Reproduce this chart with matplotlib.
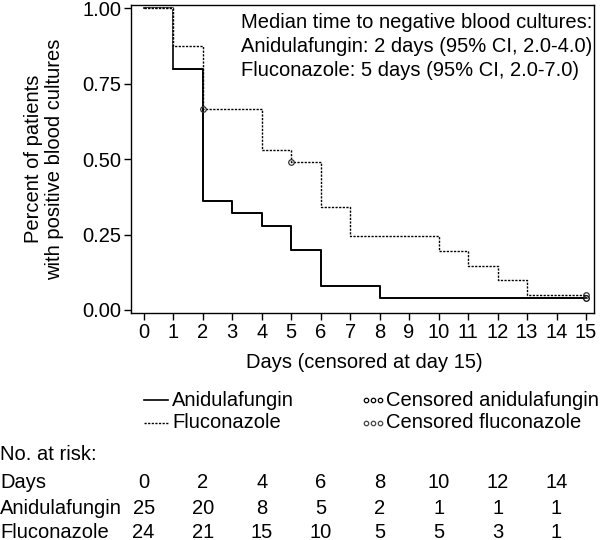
import matplotlib
matplotlib.use("Agg")
import matplotlib.pyplot as plt
import matplotlib.transforms as mtransforms
from matplotlib.lines import Line2D

plt.rcParams['font.family'] = ['Liberation Sans', 'DejaVu Sans']

# Data
ani_days = [0, 1, 2, 3, 4, 5, 6, 8, 15]
ani_surv = [1.0, 0.80, 0.36, 0.32, 0.28, 0.20, 0.08, 0.04, 0.04]
ani_cens_days = [15]
ani_cens_surv = [0.04]

flu_days = [0, 1, 2, 4, 5, 6, 7, 10, 11, 12, 13, 15]
flu_surv = [1.0, 0.875, 0.667, 0.531, 0.490, 0.343, 0.245, 0.196, 0.147, 0.098, 0.049, 0.049]
flu_cens_days = [2, 5, 15]
flu_cens_surv = [0.667, 0.490, 0.049]

risk_days = [0, 2, 4, 6, 8, 10, 12, 14]
risk_ani = [25, 20, 8, 5, 2, 1, 1, 1]
risk_flu = [24, 21, 15, 10, 5, 5, 3, 1]

xticks = list(range(0, 16))
yticks = [0.0, 0.25, 0.50, 0.75, 1.00]
ytick_labels = ['0.00', '0.25', '0.50', '0.75', '1.00']

W, H = 600, 540
fig = plt.figure(figsize=(6, 5.4), dpi=100)
ax = fig.add_axes([131 / W, 1 - 313 / H, (594 - 131) / W, (313 - 5) / H])

fs = 14.5
flu_ls = (0, (1.6, 1.0))
# Anidulafungin full curve underneath
ax.step(ani_days, ani_surv, where='post', color='black', lw=1.2, zorder=2)
# Fluconazole dashed with white gaps on top (hides the overlapping start)
ax.step(flu_days, flu_surv, where='post', color='black', lw=1.0, linestyle=flu_ls,
        gapcolor='white', zorder=3)
# Anidulafungin from its first event onward redrawn on top
ax.step(ani_days[1:], ani_surv[1:], where='post', color='black', lw=1.2, zorder=4)
ax.plot(ani_cens_days, ani_cens_surv, 'o', ms=4, mfc='none', mec='black', mew=0.9, zorder=5)
ax.plot(flu_cens_days, flu_cens_surv, 'o', ms=4, mfc='none', mec='#333333', mew=0.9, zorder=5)

ax.set_xlim(-0.43, 15.27)
ax.set_ylim(-0.01, 1.011)
ax.set_xticks(xticks)
ax.set_xticklabels([str(d) for d in xticks], fontsize=fs)
ax.set_yticks(yticks)
ax.set_yticklabels(ytick_labels, fontsize=fs)
ax.tick_params(direction='out', length=5, width=1, pad=2)
for s in ax.spines.values():
    s.set_linewidth(1)

ax.set_ylabel('Percent of patients\nwith positive blood cultures', fontsize=fs, linespacing=1.15)
ax.yaxis.set_label_coords(-0.145, 0.5)

def fx(px):
    return px / W

def fy(py):
    return 1 - py / H

fig.text(fx(241), fy(22), 'Median time to negative blood cultures:', fontsize=fs, va='center', ha='left')
fig.text(fx(241), fy(46), 'Anidulafungin: 2 days (95% CI, 2.0-4.0)', fontsize=fs, va='center', ha='left')
fig.text(fx(241), fy(70), 'Fluconazole: 5 days (95% CI, 2.0-7.0)', fontsize=fs, va='center', ha='left')

fig.text(fx(364), fy(363), 'Days (censored at day 15)', fontsize=fs, va='center', ha='center')

# Legend (manual)
fig.add_artist(Line2D([fx(144), fx(168)], [fy(400), fy(400)], color='black', lw=1.2))
fig.text(fx(172), fy(400), 'Anidulafungin', fontsize=fs, va='center', ha='left')
fig.add_artist(Line2D([fx(144), fx(168)], [fy(423), fy(423)], color='black', lw=1.0, linestyle=flu_ls))
fig.text(fx(172), fy(423), 'Fluconazole', fontsize=fs, va='center', ha='left')
fig.add_artist(Line2D([fx(366), fx(373), fx(380)], [fy(400)] * 3, lw=0, marker='o', ms=3.2,
                      mfc='none', mec='black', mew=0.9))
fig.text(fx(386), fy(400), 'Censored anidulafungin', fontsize=fs, va='center', ha='left')
fig.add_artist(Line2D([fx(366), fx(373), fx(380)], [fy(423)] * 3, lw=0, marker='o', ms=3.2,
                      mfc='none', mec='#444444', mew=0.9))
fig.text(fx(386), fy(423), 'Censored fluconazole', fontsize=fs, va='center', ha='left')

# Number at risk table
trans = mtransforms.blended_transform_factory(ax.transData, fig.transFigure)
fig.text(fx(0), fy(455), 'No. at risk:', fontsize=fs, va='center', ha='left')
fig.text(fx(0), fy(483), 'Days', fontsize=fs, va='center', ha='left')
fig.text(fx(0), fy(508), 'Anidulafungin', fontsize=fs, va='center', ha='left')
fig.text(fx(0), fy(532), 'Fluconazole', fontsize=fs, va='center', ha='left')
for d, a, f in zip(risk_days, risk_ani, risk_flu):
    fig.text(d, fy(483), str(d), fontsize=fs, va='center', ha='center', transform=trans)
    fig.text(d, fy(508), str(a), fontsize=fs, va='center', ha='center', transform=trans)
    fig.text(d, fy(532), str(f), fontsize=fs, va='center', ha='center', transform=trans)

fig.savefig('out.png', dpi=100)
